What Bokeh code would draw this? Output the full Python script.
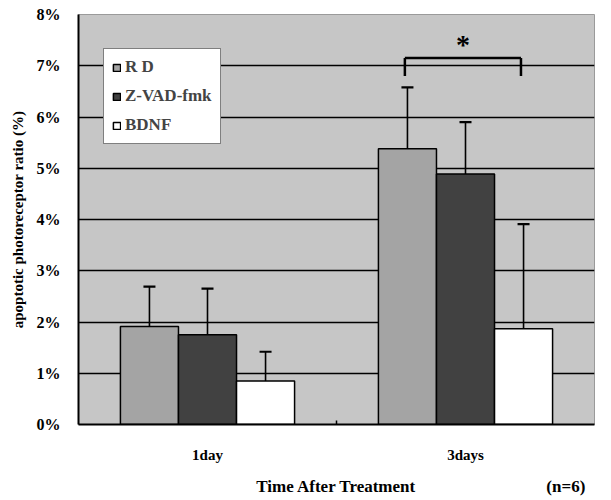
from bokeh.plotting import figure
from bokeh.models import (ColumnDataSource, FactorRange, Range1d, FixedTicker, PrintfTickFormatter,
                          Whisker, TeeHead, Legend, CategoricalAxis)
from bokeh.transform import dodge
from bokeh.core.properties import value
from bokeh.embed import file_html
from bokeh.resources import INLINE

# ---- data ----
categories = ["1day", "3days"]
series = ["R D", "Z-VAD-fmk", "BDNF"]
rd_mean = [1.91, 5.38]
rd_err = [0.78, 1.20]
zvad_mean = [1.75, 4.89]
zvad_err = [0.90, 1.01]
bdnf_mean = [0.85, 1.87]
bdnf_err = [0.57, 2.04]
y_ticks = [0, 1, 2, 3, 4, 5, 6, 7, 8]
sig_group = ["3days"]
sig_level = [7.15]
sig_drop = [0.35]
x_title = "Time After Treatment"
note = "(n=6)"

colors = ["#a4a4a4", "#414141", "#ffffff"]
offsets = [-0.225, 0.0, 0.225]
bar_w = 0.225
FONT = "Liberation Serif"

p = figure(x_range=FactorRange(*categories, range_padding=0), y_range=Range1d(0, 8),
           width=595, height=484, frame_width=516, frame_height=410,
           min_border_left=78, min_border_top=14, min_border_right=1, min_border_bottom=4,
           output_backend="svg", toolbar_location=None)
# a second categorical range: nine equal slots, title in the middle one, note in the last one
slots = [" ", "  ", "   ", "    ", x_title, "     ", "      ", "       ", note]
p.extra_x_ranges = {"note": FactorRange(*slots, range_padding=0)}
p.background_fill_color = "#c6c6c6"
p.border_fill_color = "white"
p.outline_line_color = "#9a9a9a"
p.outline_line_width = 1

p.xgrid.visible = False
p.ygrid.ticker = FixedTicker(ticks=y_ticks[1:-1])
p.ygrid.grid_line_color = "black"
p.ygrid.grid_line_width = 1.6

means = [rd_mean, zvad_mean, bdnf_mean]
errs = [rd_err, zvad_err, bdnf_err]
items = []
for name, m, e, c, off in zip(series, means, errs, colors, offsets):
    src = ColumnDataSource(dict(cat=categories, top=m, upper=[a + b for a, b in zip(m, e)]))
    r = p.vbar(x=dodge("cat", off, range=p.x_range), top="top", width=bar_w, source=src,
               fill_color=c, line_color="black", line_width=1.5)
    items.append((name, [r]))
    w = Whisker(base=dodge("cat", off, range=p.x_range), lower="top", upper="upper", source=src,
                line_color="black", line_width=1.6, lower_head=None,
                upper_head=TeeHead(size=12, line_color="black", line_width=2.2))
    p.add_layout(w)

# category boundary tick
bsrc = ColumnDataSource(dict(cat=categories[:1], y0=[0], y1=[0.08]))
p.segment(x0=dodge("cat", 0.5, range=p.x_range), x1=dodge("cat", 0.5, range=p.x_range),
          y0="y0", y1="y1", source=bsrc, line_color="black", line_width=1.5)

# significance bracket
ssrc = ColumnDataSource(dict(cat=sig_group, y=sig_level, yb=[a - b for a, b in zip(sig_level, sig_drop)]))
xl = dodge("cat", offsets[0] - 0.01, range=p.x_range)
xr = dodge("cat", offsets[2] - 0.01, range=p.x_range)
p.segment(x0=xl, x1=xr, y0="y", y1="y", source=ssrc, line_color="black", line_width=2.5)
p.segment(x0=xl, x1=xl, y0="y", y1="yb", source=ssrc, line_color="black", line_width=2.5)
p.segment(x0=xr, x1=xr, y0="y", y1="yb", source=ssrc, line_color="black", line_width=2.5)
p.text(x=dodge("cat", -0.01, range=p.x_range), y="y", text=value("*"), source=ssrc,
       text_font=value(FONT), text_font_style="bold", text_font_size="28px",
       text_align="center", text_baseline="bottom", y_offset=2)

legend = Legend(items=items, location=(25, 280), glyph_width=9, glyph_height=9,
                label_height=17, spacing=9, padding=8, margin=0, label_standoff=4,
                label_text_font="'Liberation Serif', serif", label_text_font_style="bold",
                label_text_font_size="17px",
                border_line_color="black", border_line_width=1.5, background_fill_alpha=1,
                background_fill_color="white")
p.add_layout(legend, "center")

# axes
p.yaxis.ticker = FixedTicker(ticks=y_ticks)
p.yaxis.formatter = PrintfTickFormatter(format="%d%%")
p.yaxis.axis_label = "apoptotic photoreceptor ratio (%)"
for ax in (p.xaxis[0], p.yaxis[0]):
    ax.axis_line_color = "black"
    ax.axis_line_width = 2
    ax.major_tick_line_color = None
    ax.minor_tick_line_color = None
    ax.major_label_text_font = FONT
    ax.major_label_text_font_style = "bold"
    ax.axis_label_text_font = FONT
    ax.axis_label_text_font_style = "bold"
    ax.major_label_text_color = "black"
    ax.axis_label_text_color = "black"
p.yaxis.major_label_text_font_size = "16px"
p.yaxis.major_label_standoff = 12
p.yaxis.axis_label_text_font_size = "15px"
p.yaxis.axis_label_standoff = 8
p.xaxis.major_label_text_font_size = "15px"
p.xaxis.major_label_standoff = 16

# second bottom axis carrying the axis title and the sample-size note on one line
note_axis = CategoricalAxis(x_range_name="note",
                            axis_line_color=None, major_tick_line_color=None, minor_tick_line_color=None,
                            major_label_text_font=FONT, major_label_text_font_style="bold",
                            major_label_text_font_size="17px", major_label_text_color="black",
                            major_label_standoff=5)
p.add_layout(note_axis, "below")

open("out.html", "w").write(file_html(p, INLINE))
